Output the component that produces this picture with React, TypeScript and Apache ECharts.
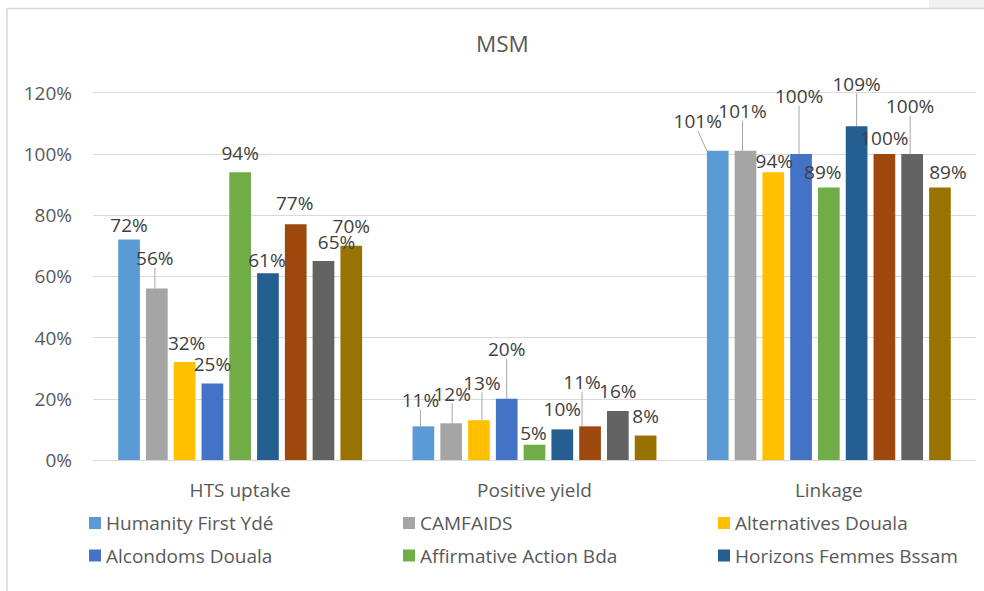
import React, { useEffect, useRef } from "react";
import * as echarts from "echarts";

// Indicator categories on the x axis
const categories = ["HTS uptake", "Positive yield", "Linkage"];

// One series per organisation, values in percent
const seriesNames = [
  "Humanity First Ydé",
  "CAMFAIDS",
  "Alternatives Douala",
  "Alcondoms Douala",
  "Affirmative Action Bda",
  "Horizons Femmes Bssam",
  "Organisation 7",
  "Organisation 8",
  "Organisation 9",
];

const humanityFirst = [72, 11, 101];
const camfaids = [56, 12, 101];
const alternativesDouala = [32, 13, 94];
const alcondomsDouala = [25, 20, 100];
const affirmativeAction = [94, 5, 89];
const horizonsFemmes = [61, 10, 109];
const organisation7 = [77, 11, 100];
const organisation8 = [65, 16, 100];
const organisation9 = [70, 8, 89];

const seriesValues = [
  humanityFirst,
  camfaids,
  alternativesDouala,
  alcondomsDouala,
  affirmativeAction,
  horizonsFemmes,
  organisation7,
  organisation8,
  organisation9,
];

const yTicks = { min: 0, max: 120, interval: 20 };

// Styling
const colors = [
  "#5b9bd5",
  "#a5a5a5",
  "#ffc000",
  "#4472c4",
  "#70ad47",
  "#255e91",
  "#9e480e",
  "#636363",
  "#997300",
];

// Label nudges [dx, dy] per series, per category, and whether a leader line is drawn
const labelNudge: number[][][] = [
  [[0, 5], [-3, -7], [-20, -10]],
  [[-2, -11], [1, -10], [-3, -20]],
  [[2, 0], [3, -18], [1, 8]],
  [[0, 0], [0, -30], [-2, -38]],
  [[0, 0], [-1, 8], [-6, 4]],
  [[-1, 6], [0, -1], [0, -23]],
  [[-1, -2], [-8, -25], [0, 4]],
  [[13, 0], [0, -1], [-2, -28]],
  [[0, 0], [0, 0], [8, 4]],
];
const leaderLine: boolean[][] = [
  [false, true, true],
  [true, true, true],
  [false, true, false],
  [false, true, true],
  [false, false, false],
  [false, false, true],
  [false, true, false],
  [false, false, true],
  [false, false, false],
];

const legendColumns = [
  ["Humanity First Ydé", "Alcondoms Douala"],
  ["CAMFAIDS", "Affirmative Action Bda"],
  ["Alternatives Douala", "Horizons Femmes Bssam"],
];
const legendLefts = [89, 403, 718];

const FONT = "'Open Sans', 'Noto Sans', sans-serif";

export default function App() {
  const ref = useRef<HTMLDivElement>(null);

  useEffect(() => {
    if (!ref.current) return;
    const chart = echarts.init(ref.current, null, { renderer: "svg" });

    const series = seriesValues.map((vals, si) => ({
      name: seriesNames[si],
      type: "bar",
      barWidth: 21.7,
      barGap: "28%",
      itemStyle: { color: colors[si] },
      data: vals.map((v, ci) => ({
        value: v,
        labelLine: { show: leaderLine[si][ci] },
      })),
      label: {
        show: true,
        position: "top",
        distance: 10,
        formatter: "{c}%",
        fontSize: 19,
        fontFamily: FONT,
        color: "#404040",
      },
      labelLine: {
        show: true,
        lineStyle: { color: "#a6a6a6", width: 1 },
      },
      labelLayout: (params: any) => {
        const n = labelNudge[params.seriesIndex][params.dataIndex];
        return { dx: n[0], dy: n[1] };
      },
    }));

    chart.setOption({
      animation: false,
      backgroundColor: "#ffffff",
      textStyle: { fontFamily: FONT },
      title: {
        text: "MSM",
        left: 476,
        top: 32,
        padding: 0,
        textStyle: {
          fontSize: 22.5,
          fontWeight: "normal",
          color: "#595959",
          fontFamily: FONT,
        },
      },
      graphic: [
        {
          type: "rect",
          shape: { x: 929, y: 0, width: 60, height: 8 },
          style: { fill: "#f0f0f0" },
          silent: true,
        },
        {
          type: "rect",
          shape: { x: 7, y: 8.5, width: 1100, height: 700 },
          style: { fill: "none", stroke: "#d9d9d9", lineWidth: 1.5 },
          silent: true,
        },
      ],
      legend: legendColumns.map((names, i) => ({
        data: names,
        orient: "vertical",
        left: legendLefts[i],
        top: 513.5,
        padding: 0,
        itemWidth: 12,
        itemHeight: 12,
        itemGap: 13.5,
        icon: "rect",
        selectedMode: false,
        textStyle: { fontSize: 19, color: "#595959", fontFamily: FONT },
      })),
      grid: {
        left: 93,
        right: 8,
        top: 92.7,
        bottom: 131,
        containLabel: false,
      },
      xAxis: {
        type: "category",
        data: categories,
        axisLine: { lineStyle: { color: "#d9d9d9", width: 1 } },
        axisTick: { show: false },
        axisLabel: {
          fontSize: 19,
          color: "#595959",
          fontFamily: FONT,
          margin: 20,
        },
      },
      yAxis: {
        type: "value",
        min: yTicks.min,
        max: yTicks.max,
        interval: yTicks.interval,
        axisLine: { show: false },
        axisTick: { show: false },
        splitLine: { lineStyle: { color: "#d9d9d9", width: 1 } },
        axisLabel: {
          formatter: "{value}%",
          fontSize: 19,
          color: "#595959",
          fontFamily: FONT,
          margin: 21,
        },
      },
      series,
    });

    return () => chart.dispose();
  }, []);

  return (
    <div
      ref={ref}
      style={{
        position: "fixed",
        left: 0,
        top: 0,
        width: 984,
        height: 591,
        background: "#fff",
      }}
    />
  );
}
